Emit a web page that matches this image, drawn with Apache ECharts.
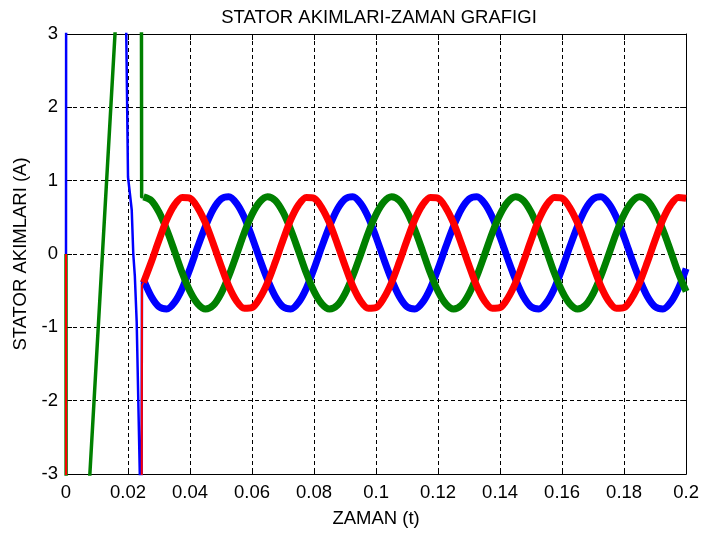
<!DOCTYPE html>
<html>
<head>
<meta charset="utf-8">
<script src="https://cdn.jsdelivr.net/npm/echarts@6/dist/echarts.min.js"></script>
<style>
html,body{margin:0;padding:0;background:#fff;}
#chart{width:702px;height:533px;}
</style>
</head>
<body>
<div id="chart"></div>
<script>
// ---- data ----
const titleText = 'STATOR AKIMLARI-ZAMAN GRAFIGI';
const xName = 'ZAMAN (t)';
const yName = 'STATOR AKIMLARI (A)';
const xTickLabels = ['0','0.02','0.04','0.06','0.08','0.1','0.12','0.14','0.16','0.18','0.2'];
const yTickLabels = ['-3','-2','-1','0','1','2','3'];

// start-up transient (values beyond +/-3 leave the visible window)
const tBlueTr  = [0, 0.0001, 0.0190, 0.0200, 0.0212, 0.0217, 0.0222, 0.0228, 0.0238, 0.0242, 0.0245, 0.025];
const blueTr   = [0, 8, 4.5, 1.05, 0.6, 0.0, -0.3, -0.93, -3.0, -6, -0.40, -0.35];
const tGreenTr = [0, 0.0001, 0.0050, 0.0077, 0.0158, 0.0185, 0.0242, 0.0244, 0.025];
const greenTr  = [0, -8, -5, -3, 3, 5, 8, 0.78, 0.78];
const tRedTr   = [0, 0.0001, 0.0243, 0.0245, 0.025];
const redTr    = [0, -8, -8, -0.43, -0.39];

// steady state
const tSteady = [0.025,0.0275,0.03,0.0325,0.035,0.0375,0.04,0.0425,0.045,0.0475,0.05,0.0525,0.055,0.0575,0.06,0.0625,0.065,0.0675,0.07,0.0725,0.075,0.0775,0.08,0.0825,0.085,0.0875,0.09,0.0925,0.095,0.0975,0.1,0.1025,0.105,0.1075,0.11,0.1125,0.115,0.1175,0.12,0.1225,0.125,0.1275,0.13,0.1325,0.135,0.1375,0.14,0.1425,0.145,0.1475,0.15,0.1525,0.155,0.1575,0.16,0.1625,0.165,0.1675,0.17,0.1725,0.175,0.1775,0.18,0.1825,0.185,0.1875,0.19,0.1925,0.195,0.1975,0.2];
const blueSt = [-0.35,-0.58,-0.72,-0.75,-0.66,-0.47,-0.20,0.10,0.38,0.61,0.75,0.78,0.69,0.50,0.23,-0.07,
  -0.35,-0.58,-0.72,-0.75,-0.66,-0.47,-0.20,0.10,0.38,0.61,0.75,0.78,0.69,0.50,0.23,-0.07,
  -0.35,-0.58,-0.72,-0.75,-0.66,-0.47,-0.20,0.10,0.38,0.61,0.75,0.78,0.69,0.50,0.23,-0.07,
  -0.35,-0.58,-0.72,-0.75,-0.66,-0.47,-0.20,0.10,0.38,0.61,0.75,0.78,0.69,0.50,0.23,-0.07,
  -0.35,-0.58,-0.72,-0.75,-0.66,-0.47,-0.20];
const greenSt = [0.78,0.73,0.57,0.33,0.04,-0.26,-0.51,-0.68,-0.75,-0.70,-0.54,-0.30,-0.01,0.29,0.54,0.71,
  0.78,0.73,0.57,0.33,0.04,-0.26,-0.51,-0.68,-0.75,-0.70,-0.54,-0.30,-0.01,0.29,0.54,0.71,
  0.78,0.73,0.57,0.33,0.04,-0.26,-0.51,-0.68,-0.75,-0.70,-0.54,-0.30,-0.01,0.29,0.54,0.71,
  0.78,0.73,0.57,0.33,0.04,-0.26,-0.51,-0.68,-0.75,-0.70,-0.54,-0.30,-0.01,0.29,0.54,0.71,
  0.78,0.73,0.57,0.33,0.04,-0.26,-0.51];
const redSt = [-0.39,-0.11,0.19,0.47,0.67,0.77,0.76,0.63,0.42,0.14,-0.16,-0.44,-0.64,-0.74,-0.73,-0.60,
  -0.39,-0.11,0.19,0.47,0.67,0.77,0.76,0.63,0.42,0.14,-0.16,-0.44,-0.64,-0.74,-0.73,-0.60,
  -0.39,-0.11,0.19,0.47,0.67,0.77,0.76,0.63,0.42,0.14,-0.16,-0.44,-0.64,-0.74,-0.73,-0.60,
  -0.39,-0.11,0.19,0.47,0.67,0.77,0.76,0.63,0.42,0.14,-0.16,-0.44,-0.64,-0.74,-0.73,-0.60,
  -0.39,-0.11,0.19,0.47,0.67,0.77,0.76];

// ---- chart ----
const FONT = "'Liberation Sans', Arial, sans-serif";
const FS = 18.5;
const pair = (t, v) => t.map((x, i) => [x, v[i]]);
const BLUE = '#0000ff', GREEN = '#008000', RED = '#ff0000';

function line(name, data, color, width, smooth) {
  return {
    name, type: 'line', data, showSymbol: false, symbol: 'none',
    smooth: smooth || false, clip: true,
    lineStyle: { color, width, join: 'round', cap: 'butt' },
    emphasis: { disabled: true }, silent: true
  };
}

const chart = echarts.init(document.getElementById('chart'), null, { renderer: 'canvas' });
const axisCommon = {
  axisLine: { show: true, onZero: false, lineStyle: { color: '#000', width: 1 } },
  axisTick: { show: true, inside: true, length: 6, lineStyle: { color: '#000' } }
};
chart.setOption({
  animation: false,
  backgroundColor: '#ffffff',
  title: {
    text: titleText, left: 374, top: 3, textAlign: 'center',
    textStyle: { fontFamily: FONT, fontSize: FS, fontWeight: 'normal', color: '#000' }
  },
  grid: { left: 66, right: 15, top: 34, bottom: 51, containLabel: false },
  xAxis: [
    Object.assign({
      type: 'value', min: 0, max: 0.2, interval: 0.02, position: 'bottom',
      name: xName, nameLocation: 'middle', nameGap: 35,
      nameTextStyle: { fontFamily: FONT, fontSize: FS, color: '#000' },
      axisLabel: { fontFamily: FONT, fontSize: FS, color: '#000', margin: 9,
        formatter: (v) => xTickLabels[Math.round(v / 0.02)] },
      splitLine: { show: true, lineStyle: { color: '#000', type: [4, 3], width: 1 } }
    }, axisCommon),
    Object.assign({
      type: 'value', min: 0, max: 0.2, interval: 0.02, position: 'top',
      axisLabel: { show: false }, splitLine: { show: false }
    }, axisCommon)
  ],
  yAxis: [
    Object.assign({
      type: 'value', min: -3, max: 3, interval: 1, position: 'left',
      name: yName, nameLocation: 'middle', nameGap: 35, nameRotate: 90,
      nameTextStyle: { fontFamily: FONT, fontSize: FS, color: '#000' },
      axisLabel: { fontFamily: FONT, fontSize: FS, color: '#000', margin: 8,
        formatter: (v) => yTickLabels[Math.round(v + 3)] },
      splitLine: { show: true, lineStyle: { color: '#000', type: [4, 3], width: 1 } }
    }, axisCommon),
    Object.assign({
      type: 'value', min: -3, max: 3, interval: 1, position: 'right',
      axisLabel: { show: false }, splitLine: { show: false }
    }, axisCommon)
  ],
  series: [
    line('ia-start', pair(tBlueTr, blueTr), BLUE, 2.5),
    line('ia', pair(tSteady, blueSt), BLUE, 7, 0.3),
    line('ib-start', pair(tGreenTr, greenTr), GREEN, 3.5),
    line('ib', pair(tSteady, greenSt), GREEN, 7, 0.3),
    line('ic-start', pair(tRedTr, redTr), RED, 2),
    line('ic', pair(tSteady, redSt), RED, 7, 0.3)
  ]
});
</script>
</body>
</html>
